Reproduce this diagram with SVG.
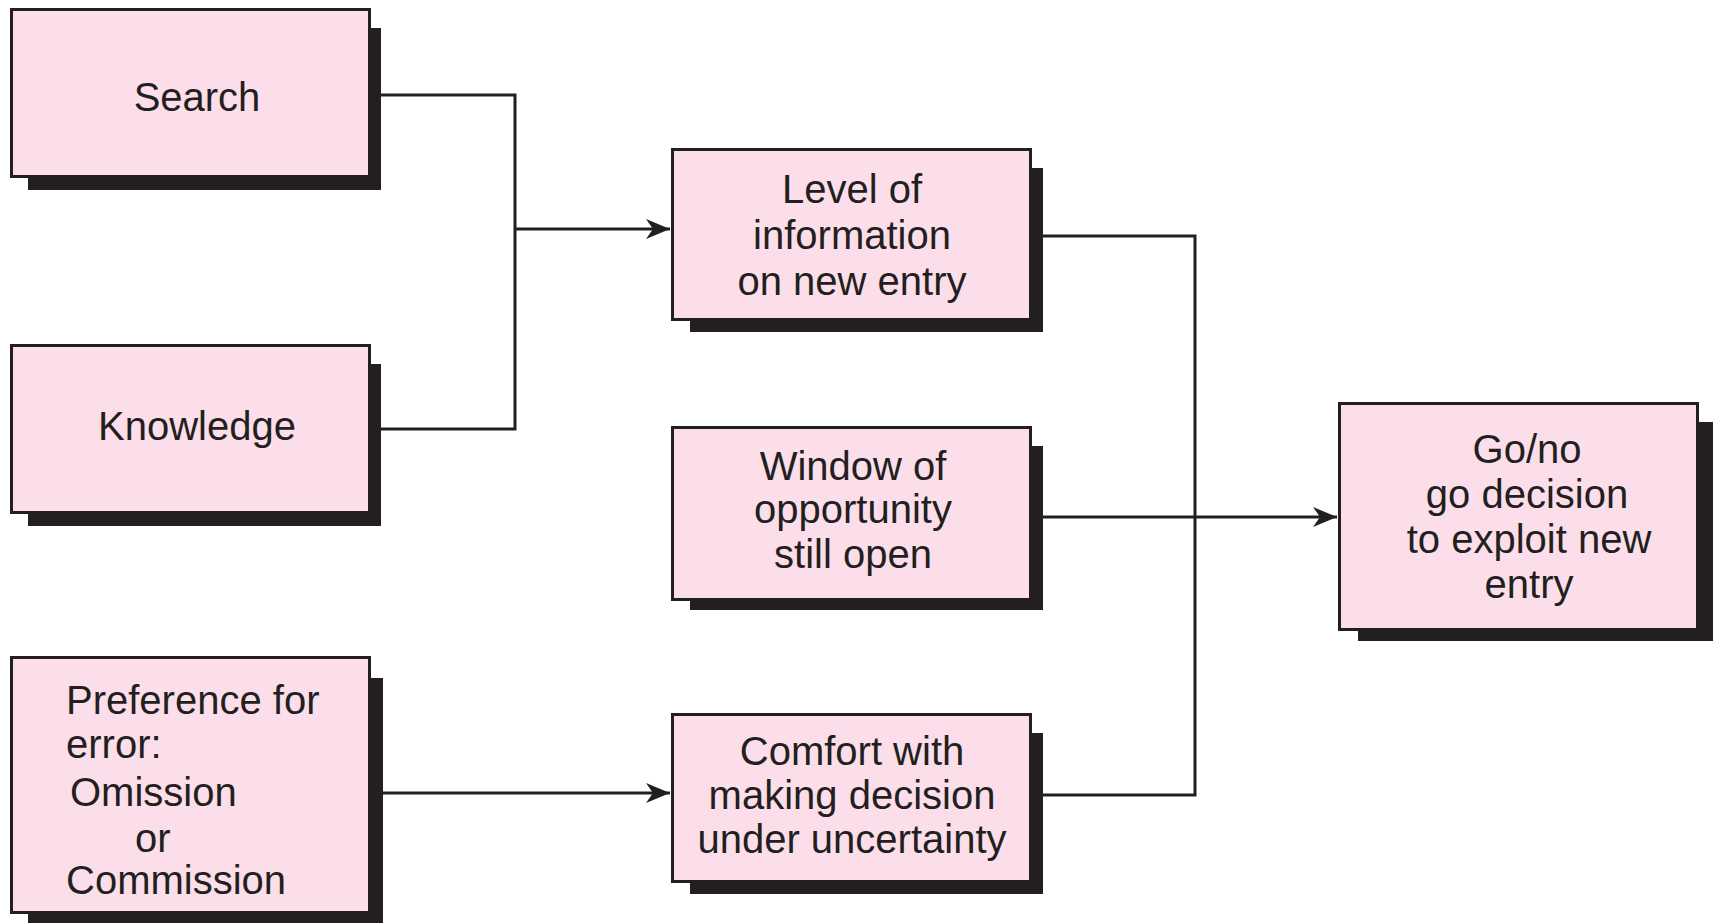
<svg xmlns="http://www.w3.org/2000/svg" width="1713" height="924" viewBox="0 0 1713 924">
<style>
.box{fill:#fbdee9;stroke:#231f20;stroke-width:3}
.sh{fill:#231f20}
.t{font-family:"Liberation Sans",Arial,sans-serif;font-size:40px;fill:#231f20}
.c{text-anchor:middle}
.ln{fill:none;stroke:#231f20;stroke-width:3}
</style>
<defs>
<marker id="ah" markerUnits="userSpaceOnUse" markerWidth="26" markerHeight="22" refX="24" refY="11" orient="auto">
<path d="M0,1 L24,11 L0,21 L7,11 z" fill="#231f20"/>
</marker>
</defs>
<rect width="1713" height="924" fill="#ffffff"/>
<g id="connectors">
<path class="ln" d="M381,95 H515 V429 H381"/>
<path class="ln" d="M515,229 H670" marker-end="url(#ah)"/>
<path class="ln" d="M383,793 H670" marker-end="url(#ah)"/>
<path class="ln" d="M1043,236 H1195 V795 H1043"/>
<path class="ln" d="M1043,517 H1337" marker-end="url(#ah)"/>
</g>
<g id="search">
<rect class="sh" x="28" y="28" width="353" height="162"/>
<rect class="box" x="11.5" y="9.5" width="358" height="167"/>
<text class="t c" x="197" y="111">Search</text>
</g>
<g id="knowledge">
<rect class="sh" x="28" y="364" width="353" height="162"/>
<rect class="box" x="11.5" y="345.5" width="358" height="167"/>
<text class="t c" x="197" y="440">Knowledge</text>
</g>
<g id="preference">
<rect class="sh" x="28" y="678" width="355" height="245"/>
<rect class="box" x="11.5" y="657.5" width="358" height="255"/>
<text class="t" x="66" y="714">Preference for</text>
<text class="t" x="66" y="758">error:</text>
<text class="t" x="70" y="806">Omission</text>
<text class="t" x="135" y="852">or</text>
<text class="t" x="66" y="894">Commission</text>
</g>
<g id="level">
<rect class="sh" x="690" y="168" width="353" height="164"/>
<rect class="box" x="672.5" y="149.5" width="358" height="170"/>
<text class="t c" x="852" y="203">Level of</text>
<text class="t c" x="852" y="249">information</text>
<text class="t c" x="852" y="295">on new entry</text>
</g>
<g id="window">
<rect class="sh" x="690" y="446" width="353" height="164"/>
<rect class="box" x="672.5" y="427.5" width="358" height="172"/>
<text class="t c" x="853" y="480">Window of</text>
<text class="t c" x="853" y="523">opportunity</text>
<text class="t c" x="853" y="568">still open</text>
</g>
<g id="comfort">
<rect class="sh" x="690" y="733" width="353" height="161"/>
<rect class="box" x="672.5" y="714.5" width="358" height="167"/>
<text class="t c" x="852" y="765">Comfort with</text>
<text class="t c" x="852" y="809">making decision</text>
<text class="t c" x="852" y="853">under uncertainty</text>
</g>
<g id="go">
<rect class="sh" x="1358" y="422" width="355" height="219"/>
<rect class="box" x="1339.5" y="403.5" width="358" height="226"/>
<text class="t c" x="1527" y="463">Go/no</text>
<text class="t c" x="1527" y="508">go decision</text>
<text class="t c" x="1529" y="553">to exploit new</text>
<text class="t c" x="1529" y="598">entry</text>
</g>
</svg>
